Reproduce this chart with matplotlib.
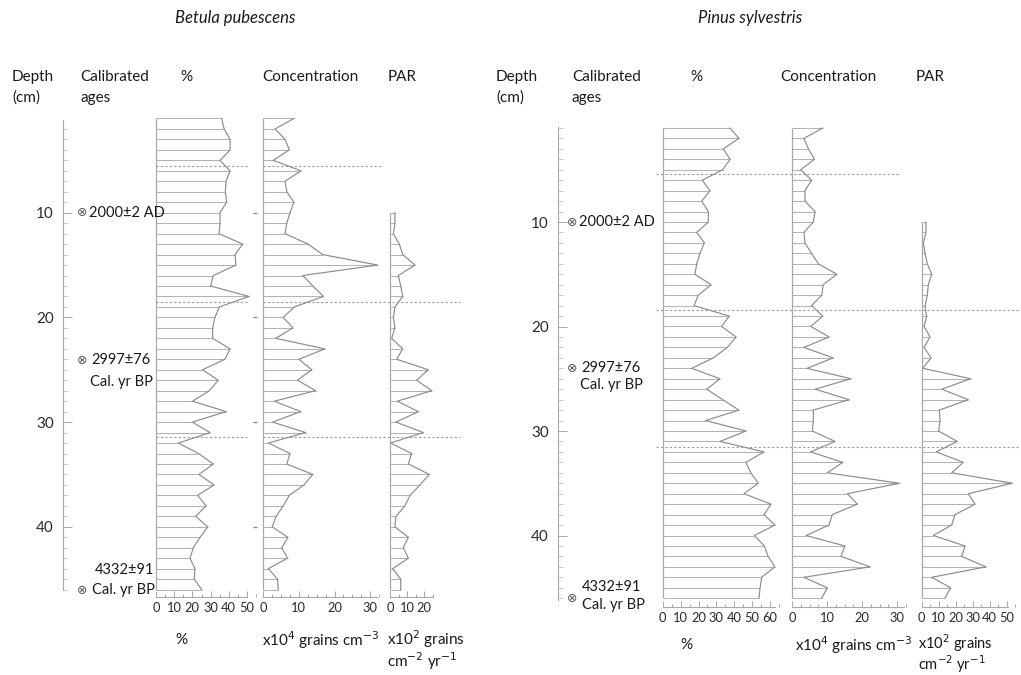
import matplotlib
matplotlib.use("Agg")
import matplotlib.pyplot as plt
from matplotlib.ticker import MultipleLocator, FixedLocator

plt.rcParams['font.family'] = ['Lato', 'DejaVu Sans']

W, H = 1021, 675

# ---------------- data ----------------
depths = list(range(1, 47))            # sample depths (cm)
par_depths = list(range(10, 47))      # PAR only from 10 cm
age_depth_ticks = [10, 20, 30, 40]

betula_pct = [36.1, 37.4, 40.7, 40.7, 35.2, 40.7, 38.5, 38.1, 38.8, 35.2,
              35.2, 34.6, 47.6, 43.4, 43.9, 31.5, 30.0, 51.1, 34.8, 32.4,
              31.1, 31.1, 40.7, 37.9, 25.6, 34.2, 29.3, 20.1, 38.5, 20.0,
              29.7, 12.3, 23.3, 31.5, 23.6, 31.9, 22.9, 27.5, 21.8, 28.4,
              24.2, 20.5, 18.7, 21.4, 21.0, 25.1]
betula_conc = [8.6, 3.3, 6.1, 7.3, 2.8, 10.6, 6.1, 6.6, 8.6, 7.5,
               6.6, 6.1, 12.6, 16.7, 32.1, 11.1, 13.9, 16.9, 8.7, 5.6,
               8.3, 3.5, 17.3, 10.0, 13.6, 9.6, 14.7, 3.1, 10.5, 2.6,
               11.9, 1.4, 7.5, 6.6, 13.9, 11.4, 7.3, 5.6, 3.6, 2.5,
               6.9, 5.2, 6.8, 1.4, 4.0, 4.2]
betula_par = [2.9, 2.9, 2.0, 5.5, 7.5, 14.7, 4.9, 6.3, 7.5, 2.9,
              2.0, 2.9, 1.0, 7.5, 3.9, 22.5, 15.7, 24.5, 4.3, 16.7,
              3.5, 19.6, 0.3, 12.7, 10.8, 23.1, 17.6, 11.8, 8.8, 3.5,
              2.9, 10.8, 7.8, 10.8, 1.6, 6.3, 6.3]

pinus_pct = [37.6, 42.6, 33.9, 37.6, 33.5, 22.1, 26.4, 21.8, 25.5, 25.5,
             19.0, 23.3, 20.8, 19.0, 18.0, 27.0, 19.9, 17.5, 37.2, 32.9,
             41.0, 36.1, 28.3, 16.2, 32.0, 24.6, 33.5, 42.6, 24.0, 46.5,
             32.0, 56.6, 46.5, 49.2, 53.4, 45.4, 60.5, 56.6, 62.7, 51.2,
             56.8, 58.9, 62.7, 55.3, 54.4, 53.8]
pinus_conc = [8.8, 3.4, 4.7, 6.4, 2.5, 5.6, 3.7, 3.7, 6.6, 6.1,
              3.4, 3.7, 5.6, 7.5, 12.8, 8.9, 8.5, 5.6, 8.8, 5.4,
              10.6, 3.4, 11.8, 4.3, 16.8, 6.6, 16.3, 6.1, 6.1, 5.8,
              12.3, 5.3, 14.5, 10.1, 30.7, 15.8, 18.7, 11.5, 10.6, 4.0,
              15.1, 14.0, 22.3, 3.4, 10.1, 8.5]
pinus_par = [2.5, 2.5, 1.0, 2.0, 3.3, 5.9, 3.9, 3.3, 2.0, 2.9,
             1.4, 4.9, 1.4, 5.5, 0.6, 28.8, 11.8, 27.4, 10.4, 10.8,
             9.9, 20.9, 8.6, 24.5, 17.6, 53.3, 27.4, 31.4, 19.6, 17.6,
             6.8, 25.5, 23.5, 37.8, 5.9, 17.0, 13.7]

betula_zones = [5.5, 18.5, 31.4]
pinus_zones = [5.4, 18.4, 31.5]

# ---------------- style ----------------
C_H = '#b3b3b3'
C_CURVE = '#8c8c8c'
C_AX = '#a8a8a8'
C_DASH = '#9a9a9a'
C_TXT = '#1a1a1a'
TICK_FS = 9.3

fig = plt.figure(figsize=(W / 100, H / 100), dpi=100)


def px_axes(x0, y0, x1, y1):
    return fig.add_axes([x0 / W, 1 - y1 / H, (x1 - x0) / W, (y1 - y0) / H])


def ftext(x, y, s, **kw):
    kw.setdefault('color', C_TXT)
    kw.setdefault('fontsize', 11)
    kw.setdefault('va', 'center')
    fig.text(x / W, 1 - y / H, s, **kw)


def pt(px):
    return px * 0.72


def panel(dep, vals, x0v, scale, vmin, vmax, y0, ys, axis_max, ticks,
          minor_step, off_px):
    d_top, d_bot = 0.5, 46
    ax = px_axes(x0v + scale * vmin, y0 + ys * d_top,
                 x0v + scale * vmax, y0 + ys * d_bot)
    ax.set_xlim(vmin, vmax)
    ax.set_ylim(d_bot, d_top)
    ax.patch.set_alpha(0)
    for s in ['top', 'right', 'left']:
        ax.spines[s].set_visible(False)
    ax.hlines(dep, 0, vals, color=C_H, lw=0.75, clip_on=False)
    ax.plot(vals, dep, color=C_CURVE, lw=0.85, clip_on=False)
    ax.vlines(0, dep[0], dep[-1], color=C_AX, lw=0.9, clip_on=False)
    sp = ax.spines['bottom']
    sp.set_position(('outward', pt(off_px)))
    sp.set_bounds(0, axis_max)
    sp.set_color(C_AX)
    sp.set_linewidth(0.8)
    ax.set_yticks([])
    ax.xaxis.set_major_locator(FixedLocator(ticks))
    ax.xaxis.set_minor_locator(MultipleLocator(minor_step))
    ax.tick_params(axis='x', which='major', direction='in', length=pt(6),
                   width=0.7, color=C_AX, labelsize=TICK_FS,
                   labelcolor='#2a2a2a', pad=pt(5))
    ax.tick_params(axis='x', which='minor', direction='in', length=pt(3),
                   width=0.7, color=C_AX)
    return ax


def zone_lines(ax, zones, x_from, x_to):
    ax.hlines(zones, x_from, x_to, color=C_DASH, lw=0.8,
              linestyles=(0, (2, 2)), clip_on=False)


def depth_axis(xline, y0, ys, d_top, d_bot):
    ax = px_axes(xline, y0 + ys * d_top, xline + 10, y0 + ys * d_bot)
    ax.set_ylim(d_bot, d_top)
    ax.patch.set_alpha(0)
    for s in ['top', 'right', 'bottom']:
        ax.spines[s].set_visible(False)
    ax.spines['left'].set_color(C_AX)
    ax.spines['left'].set_linewidth(0.8)
    ax.set_xticks([])
    ax.yaxis.set_major_locator(FixedLocator(age_depth_ticks))
    ax.yaxis.set_minor_locator(MultipleLocator(1))
    ax.tick_params(axis='y', which='major', direction='in', length=pt(9),
                   width=0.7, color=C_AX, labelsize=11, labelcolor='#2a2a2a',
                   pad=pt(9))
    ax.tick_params(axis='y', which='minor', direction='in', length=pt(5),
                   width=0.6, color='#c4c4c4')
    return ax


def sym(x, y):
    ftext(x, y, '⊗', ha='center', fontsize=9, color='#555',
          family=['DejaVu Sans'])


# ================= Betula (left) =================
Ly0, Lys = 108.0, 10.47
depth_axis(63, Ly0, Lys, 1.1, 46.0)
a1 = panel(depths, betula_pct, 156.0, 1.82, -2, 56, Ly0, Lys, 50,
           [0, 10, 20, 30, 40, 50], 5, 7.5)
zone_lines(a1, betula_zones, 0, 51)
a1.plot([54.5] * 4, age_depth_ticks, ls='none', marker='_', ms=2.5,
        color='#888', clip_on=False)
a2 = panel(depths, betula_conc, 263.3, 3.56, -1, 34, Ly0, Lys, 32,
           [0, 10, 20, 30], 2.5, 7.5)
zone_lines(a2, betula_zones[:1], 0, 33.5)
zone_lines(a2, betula_zones[1:], 0, 33.5 + (460 - 383) / 3.56)
a3 = panel(par_depths, betula_par, 390.0, 1.7, -2, 28, Ly0, Lys, 25,
           [0, 10, 20], 5, 7.5)

ftext(235, 18, 'Betula pubescens', style='italic', fontsize=12, ha='center')
ftext(12, 77, 'Depth', ha='left')
ftext(12, 98, '(cm)', ha='left')
ftext(80, 77, 'Calibrated', ha='left')
ftext(80, 98, 'ages', ha='left')
ftext(180, 77, '%', ha='left')
ftext(262, 77, 'Concentration', ha='left')
ftext(388, 77, 'PAR', ha='left')

sym(82, 213)
ftext(89, 213, '2000±2 AD', ha='left', fontsize=10.5)
sym(82, 360)
ftext(91, 360, '2997±76', ha='left', fontsize=10.5)
ftext(90, 382, 'Cal. yr BP', ha='left', fontsize=10.5)
ftext(95, 570, '4332±91', ha='left', fontsize=10.5)
sym(82, 590)
ftext(92, 590, 'Cal. yr BP', ha='left', fontsize=10.5)

ftext(175, 640, '%', ha='left')
ftext(262, 640, r'x10$^{4}$ grains cm$^{-3}$', ha='left')
ftext(387, 639, r'x10$^{2}$ grains', ha='left')
ftext(387, 661, r'cm$^{-2}$ yr$^{-1}$', ha='left')

# ================= Pinus (right) =================
Ry0, Rys = 117.5, 10.45
depth_axis(558, Ry0, Rys, 0.9, 46.2)
b1 = panel(depths, pinus_pct, 662.7, 1.79, -4, 66, Ry0, Rys, 62.5,
           [0, 10, 20, 30, 40, 50, 60], 5, 9)
zone_lines(b1, pinus_zones[:1], -4, 66 + (900 - 781) / 1.79)
zone_lines(b1, pinus_zones[1:], -4, 66 + (1020 - 781) / 1.79)
b2 = panel(depths, pinus_conc, 792.0, 3.5, -1, 34, Ry0, Rys, 32,
           [0, 10, 20, 30], 2.5, 9)
b3 = panel(par_depths, pinus_par, 921.7, 1.7, -2, 56, Ry0, Rys, 51,
           [0, 10, 20, 30, 40, 50], 5, 9)

ftext(750, 18, 'Pinus sylvestris', style='italic', fontsize=12, ha='center')
ftext(496, 77, 'Depth', ha='left')
ftext(496, 98, '(cm)', ha='left')
ftext(572, 77, 'Calibrated', ha='left')
ftext(572, 98, 'ages', ha='left')
ftext(690, 77, '%', ha='left')
ftext(780, 77, 'Concentration', ha='left')
ftext(916, 77, 'PAR', ha='left')

sym(572, 222)
ftext(579, 222, '2000±2 AD', ha='left', fontsize=10.5)
sym(572, 368)
ftext(581, 368, '2997±76', ha='left', fontsize=10.5)
ftext(580, 385, 'Cal. yr BP', ha='left', fontsize=10.5)
ftext(582, 587, '4332±91', ha='left', fontsize=10.5)
sym(572, 599)
ftext(582, 605, 'Cal. yr BP', ha='left', fontsize=10.5)

ftext(680, 645, '%', ha='left')
ftext(795, 645, r'x10$^{4}$ grains cm$^{-3}$', ha='left')
ftext(918, 643, r'x10$^{2}$ grains', ha='left', fontsize=10.5)
ftext(918, 664, r'cm$^{-2}$ yr$^{-1}$', ha='left', fontsize=10.5)

fig.savefig('out.png', dpi=100)
